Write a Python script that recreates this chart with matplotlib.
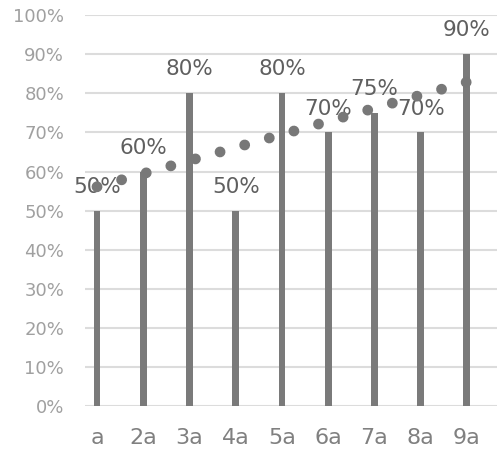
import matplotlib.pyplot as plt
from matplotlib.ticker import PercentFormatter

# --------------------------------------------------------------------------- #
# data
# --------------------------------------------------------------------------- #
categories = ["a", "2a", "3a", "4a", "5a", "6a", "7a", "8a", "9a"]
values = [50, 60, 80, 50, 80, 70, 75, 70, 90]
bar_labels = ["50%", "60%", "80%", "50%", "80%", "70%", "75%", "70%", "90%"]
# linear trendline, value at first and last category
trend_x = [0, 8]
trend_y = [56.1, 82.9]
y_ticks = list(range(0, 101, 10))

BAR_COLOR = "#7a7a7a"
DOT_COLOR = "#787878"
LABEL_COLOR = "#5f5f5f"
GRID_COLOR = "#dcdcdc"

fig = plt.figure(figsize=(4.97, 4.53), dpi=100)
ax = fig.add_axes([0.171, 0.1035, 0.829, 0.863])

x = list(range(len(categories)))
ax.bar(x, values, width=0.15, color=BAR_COLOR, zorder=2)

for xi, v, lab in zip(x, values, bar_labels):
    ax.annotate(lab, (xi, v), xytext=(0, 10), textcoords="offset points",
                ha="center", va="bottom", fontsize=15.5, color=LABEL_COLOR,
                zorder=3)

# dotted trendline, big round dots
trend, = ax.plot(trend_x, trend_y, color=DOT_COLOR, lw=7.8, zorder=4,
                 dash_capstyle="round")
trend.set_dashes([0.001, 2.36])

ax.set_xlim(-0.26, 8.65)
ax.set_ylim(0, 100)
ax.set_yticks(y_ticks)
ax.yaxis.set_major_formatter(PercentFormatter(decimals=0))
ax.set_xticks(x)
ax.set_xticklabels(categories)

ax.grid(axis="y", color=GRID_COLOR, lw=1.5, zorder=0)
ax.set_axisbelow(True)
for s in ax.spines.values():
    s.set_visible(False)
ax.tick_params(axis="both", length=0)
ax.tick_params(axis="y", labelsize=13, labelcolor="#a0a0a0", pad=15)
ax.tick_params(axis="x", labelsize=16, labelcolor="#808080", pad=16)

fig.savefig("out.png", dpi=100)
